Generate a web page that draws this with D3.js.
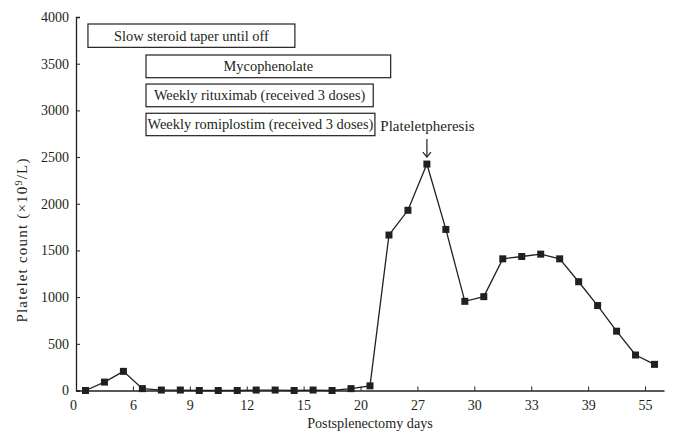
<!DOCTYPE html>
<html>
<head>
<meta charset="utf-8">
<script src="https://cdn.jsdelivr.net/npm/d3@7"></script>
<style>
  html, body { margin: 0; padding: 0; background: #fff; }
  svg { display: block; }
  text { font-family: "Liberation Serif", "DejaVu Serif", serif; fill: #231f20; }
</style>
</head>
<body>
<svg id="chart" width="675" height="444"></svg>
<script>
// ---- data ----
const tickLabels = ["0", "6", "9", "12", "15", "20", "27", "30", "33", "39", "55"];
const plateletCounts = [0, 90, 205, 20, 5, 5, 0, 0, 0, 5, 5, 0, 5, 0, 20, 50,
  1665, 1930, 2425, 1725, 955, 1005, 1410, 1435, 1460, 1410, 1165, 910, 635, 380, 280];
const yTicks = [0, 500, 1000, 1500, 2000, 2500, 3000, 3500, 4000];
const treatments = ["Slow steroid taper until off", "Mycophenolate",
  "Weekly rituximab (received 3 doses)", "Weekly romiplostim (received 3 doses)"];
const treatmentStart = [0.63, 3.69, 3.69, 3.69];
const treatmentEnd = [11.54, 16.59, 15.67, 15.76];
const treatmentTop = [3925, 3593, 3282, 2969];
const treatmentBottom = [3675, 3350, 3039, 2729];
const annotationText = "Plateletpheresis";
const annotationIndex = 18;

// ---- layout ----
const svg = d3.select("#chart");
const mLeft = 76, mRight = 664, mTop = 17, mBottom = 390.5;
const n = plateletCounts.length;
const x = d3.scaleLinear().domain([0, n]).range([mLeft, mRight]);
const y = d3.scaleLinear().domain([0, 4000]).range([mBottom, mTop]);
const ink = "#231f20";

// x axis
const xAxis = d3.axisBottom(x)
  .tickValues(d3.range(0, n, 3))
  .tickFormat((d, i) => tickLabels[i])
  .tickSizeInner(-4).tickSizeOuter(0).tickPadding(10);
const gx = svg.append("g").attr("transform", `translate(0,${mBottom})`).call(xAxis);
gx.select(".domain").attr("stroke", ink).attr("stroke-width", 1.3);
gx.selectAll(".tick line").attr("stroke", ink);
gx.selectAll(".tick text").attr("font-size", 14).attr("fill", ink);
gx.selectAll(".tick").filter(d => d === 0).select("text").attr("dx", -3);

// y axis
const yAxis = d3.axisLeft(y)
  .tickValues(yTicks)
  .tickFormat(d3.format("d"))
  .tickSizeInner(-4).tickSizeOuter(-4).tickPadding(7);
const gy = svg.append("g").attr("transform", `translate(${mLeft},0)`).call(yAxis);
gy.select(".domain").attr("stroke", ink).attr("stroke-width", 1.3);
gy.selectAll(".tick line").attr("stroke", ink);
gy.selectAll(".tick text").attr("font-size", 14).attr("fill", ink);

// axis titles
svg.append("text")
  .attr("x", (mLeft + mRight) / 2).attr("y", 428)
  .attr("text-anchor", "middle").attr("font-size", 14.2)
  .text("Postsplenectomy days");

const yt = svg.append("text")
  .attr("transform", `translate(27,240) rotate(-90)`)
  .attr("text-anchor", "middle").attr("font-size", 15)
  .attr("letter-spacing", 1.2);
yt.append("tspan").text("Platelet count (\u00d710");
yt.append("tspan").attr("font-size", 10).attr("dy", -5).text("9");
yt.append("tspan").attr("dy", 5).text("/L)");

// treatment boxes
const boxes = svg.append("g");
treatments.forEach((t, i) => {
  const x0 = x(treatmentStart[i]), x1 = x(treatmentEnd[i]);
  const y0 = y(treatmentTop[i]), y1 = y(treatmentBottom[i]);
  boxes.append("rect")
    .attr("x", x0).attr("y", y0).attr("width", x1 - x0).attr("height", y1 - y0)
    .attr("fill", "#fff").attr("stroke", ink).attr("stroke-width", 1.2);
  boxes.append("text")
    .attr("x", (x0 + x1) / 2).attr("y", (y0 + y1) / 2 + 5)
    .attr("text-anchor", "middle").attr("font-size", 14.4)
    .text(t);
});

// line + markers
const cx = i => x(i + 0.5);
const line = d3.line().x((d, i) => cx(i)).y(d => y(d));
svg.append("path").datum(plateletCounts)
  .attr("d", line).attr("fill", "none").attr("stroke", ink).attr("stroke-width", 1.3);
const ms = 7;
svg.append("g").selectAll("rect").data(plateletCounts).join("rect")
  .attr("x", (d, i) => cx(i) - ms / 2).attr("y", d => y(d) - ms / 2)
  .attr("width", ms).attr("height", ms).attr("fill", ink);

// annotation
const ax = cx(annotationIndex), ay = y(plateletCounts[annotationIndex]);
svg.append("text")
  .attr("x", ax + 0.5).attr("y", 131).attr("text-anchor", "middle")
  .attr("font-size", 15).text(annotationText);
svg.append("line").attr("x1", ax).attr("x2", ax).attr("y1", 139).attr("y2", ay - 7)
  .attr("stroke", ink).attr("stroke-width", 1.2);
svg.append("path")
  .attr("d", `M${ax - 4},${ay - 12} L${ax},${ay - 7} L${ax + 4},${ay - 12}`)
  .attr("fill", "none").attr("stroke", ink).attr("stroke-width", 1.2);
</script>
</body>
</html>
